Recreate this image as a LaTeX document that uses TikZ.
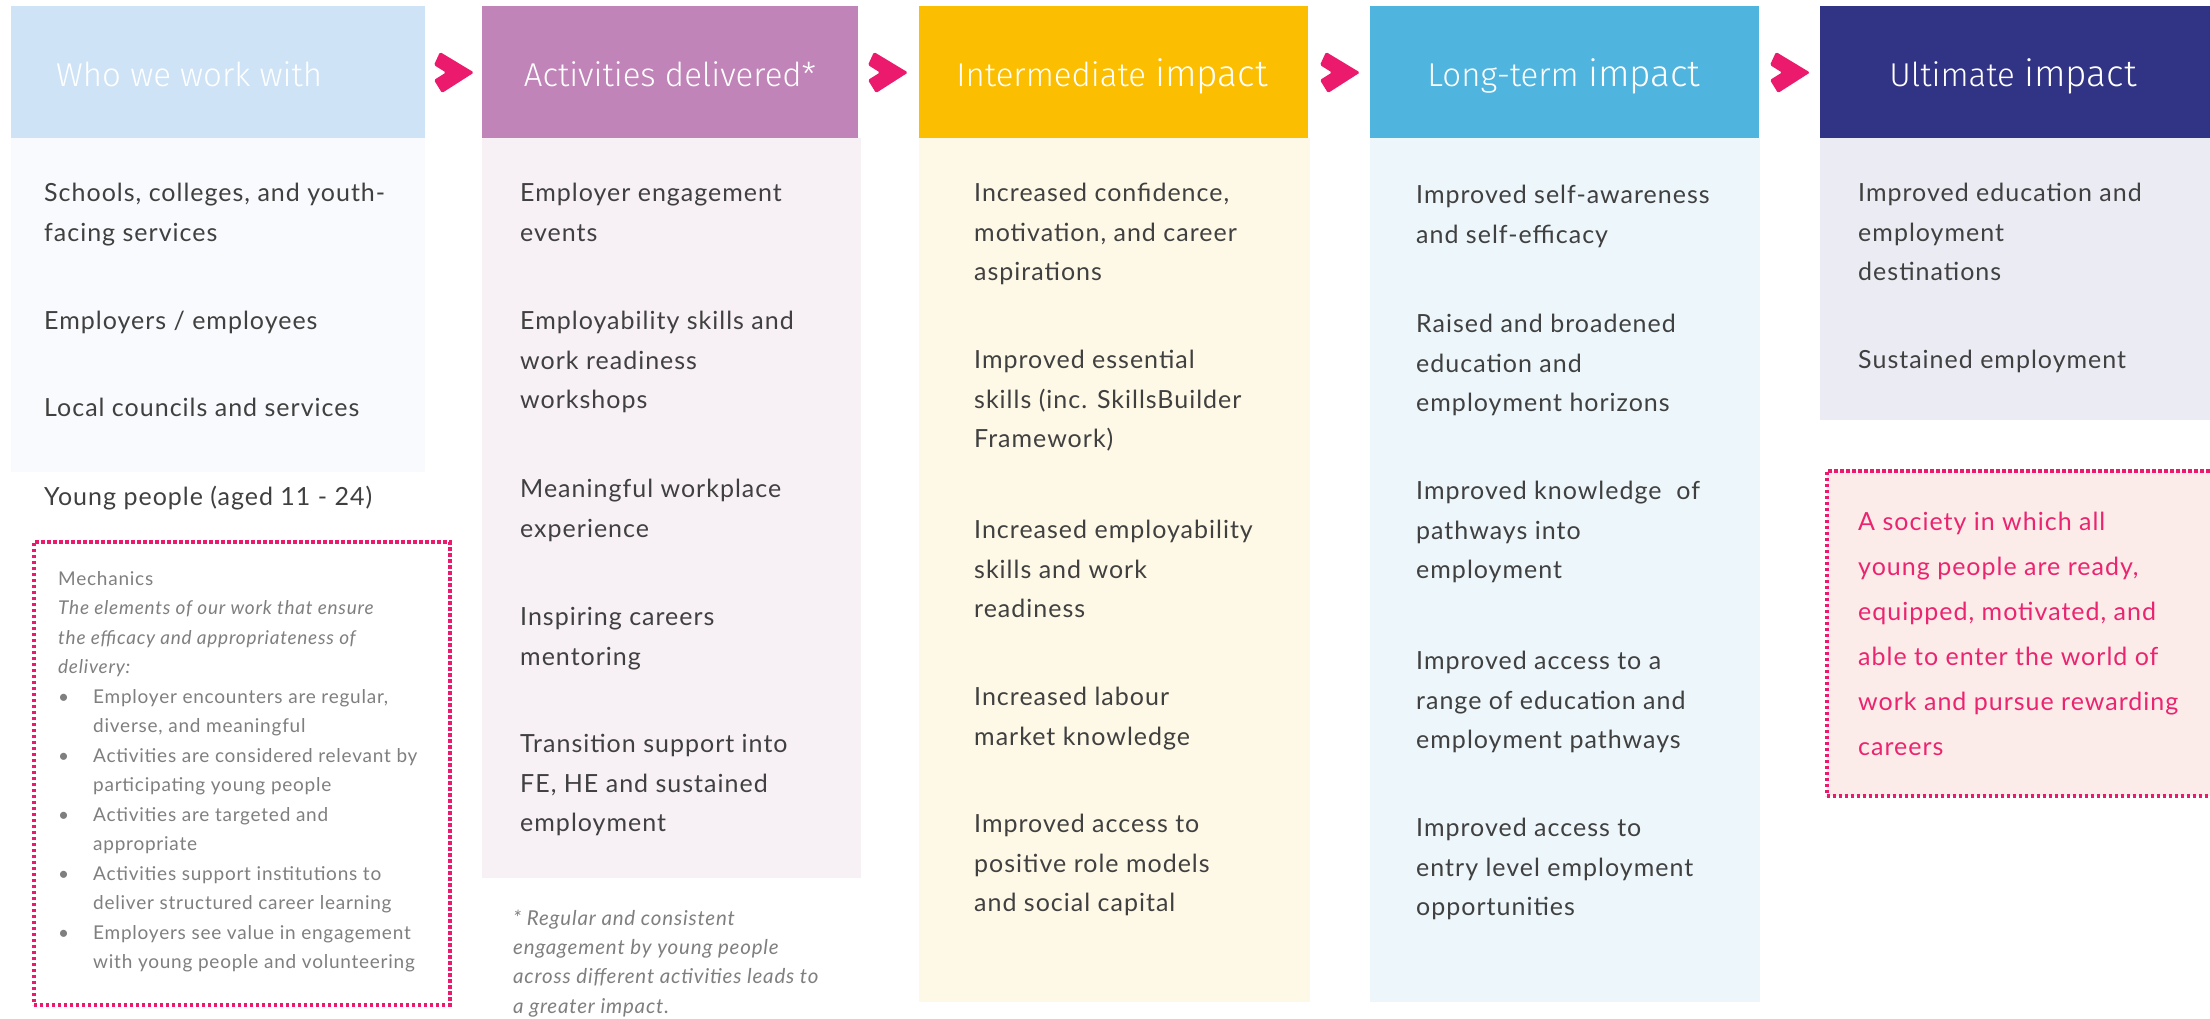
\documentclass[tikz,border=0pt]{standalone}
\usepackage{fontspec}
\setmainfont{Lato}[LetterSpace=4]
\newfontfamily\headfont{Fira Sans Light}
\definecolor{hA}{HTML}{CFE3F6}
\definecolor{hB}{HTML}{C084B8}
\definecolor{hC}{HTML}{FBBE00}
\definecolor{hD}{HTML}{4FB4DE}
\definecolor{hE}{HTML}{313384}
\definecolor{bA}{HTML}{F9FAFD}
\definecolor{bB}{HTML}{F7F1F6}
\definecolor{bC}{HTML}{FEF8E6}
\definecolor{bD}{HTML}{EDF6FA}
\definecolor{bE}{HTML}{EBEBF4}
\definecolor{pinkc}{HTML}{EC1A6C}
\definecolor{pinktxt}{HTML}{EB2470}
\definecolor{pinkfill}{HTML}{FBECEA}
\definecolor{bodytxt}{HTML}{404040}
\definecolor{greytxt}{HTML}{7F7F7F}
\begin{document}
\begin{tikzpicture}[x=1pt,y=-1pt,
  hdr/.style={anchor=north west, inner sep=0pt, minimum height=132pt},
  htxt/.style={anchor=base, inner sep=0pt, text=white, font=\headfont\fontsize{33}{36}\selectfont},
  big/.style={font=\fontsize{37}{38}\selectfont},
  panel/.style={anchor=north west, inner sep=0pt},
  item/.style={anchor=base west, align=left, inner sep=0pt, text=bodytxt,
    font=\fontsize{25}{39.5}\selectfont},
  small/.style={anchor=base west, align=left, inner sep=0pt, text=greytxt,
    font=\fontsize{19}{29.5}\selectfont},
  dotbox/.style={draw=pinkc, line width=3.5pt, dash pattern=on 3.5pt off 2.5pt},
  chev/.pic={\fill[pinkc, rounded corners=1.5pt] (6,0) -- (40,20.5) -- (8,41) -- (0,28) -- (12,20.5) -- (0,13) -- cycle;}
]
\useasboundingbox (0,0) rectangle (2210,1018);
\fill[white] (0,0) rectangle (2210,1018);

% panels (bodies)
\node[panel, fill=bA, minimum width=414pt, minimum height=334pt] (b1) at (11,138) {};
\node[panel, fill=bB, minimum width=379pt, minimum height=740pt] (b2) at (482,138) {};
\node[panel, fill=bC, minimum width=391pt, minimum height=864pt] (b3) at (919,138) {};
\node[panel, fill=bD, minimum width=390pt, minimum height=864pt] (b4) at (1370,138) {};
\node[panel, fill=bE, minimum width=390pt, minimum height=282pt] (b5) at (1820,138) {};

% headers
\node[hdr, fill=hA, minimum width=414pt] (h1) at (11,6) {};
\node[hdr, fill=hB, minimum width=376pt] (h2) at (482,6) {};
\node[hdr, fill=hC, minimum width=389pt] (h3) at (919,6) {};
\node[hdr, fill=hD, minimum width=389pt] (h4) at (1370,6) {};
\node[hdr, fill=hE, minimum width=392pt] (h5) at (1820,6) {};

\node[htxt, anchor=base west] (t1) at (56,86) {Who we work with};
\node[htxt] (t2) at (670,86) {Activities delivered*};
\node[htxt] (t3) at (1112,86) {Intermediate {\fontsize{37}{38}\selectfont impact}};
\node[htxt] (t4) at (1564,86) {Long-term {\fontsize{37}{38}\selectfont impact}};
\node[htxt] (t5) at (2013,86) {Ultimate {\fontsize{37}{38}\selectfont impact}};

% chevrons
\pic at (434,52) {chev};
\pic at (868,52) {chev};
\pic at (1320,52) {chev};
\pic at (1770,52) {chev};

% column 1 (anchor = baseline of last line)
\node[item] (a1) at (44,241) {Schools, colleges, and youth-\\facing services};
\node[item] (a2) at (44,329.5) {Employers / employees};
\node[item] (a3) at (44,416.5) {Local councils and services};
\node[item] (a4) at (44,505.5) {Young people (aged 11 - 24)};

% mechanics box
\node[panel, dotbox, minimum width=416pt, minimum height=463pt] (mech) at (32,540) {};
\node[small] (mtxt) at (58,968.5) {Mechanics\\
\textit{The elements of our work that ensure}\\
\textit{the efficacy and appropriateness of}\\
\textit{delivery:}\\
\makebox[35pt][l]{•}Employer encounters are regular,\\
\hspace*{35pt}diverse, and meaningful\\
\makebox[35pt][l]{•}Activities are considered relevant by\\
\hspace*{35pt}participating young people\\
\makebox[35pt][l]{•}Activities are targeted and\\
\hspace*{35pt}appropriate\\
\makebox[35pt][l]{•}Activities support institutions to\\
\hspace*{35pt}deliver structured career learning\\
\makebox[35pt][l]{•}Employers see value in engagement\\
\hspace*{35pt}with young people and volunteering};

% column 2
\node[item] (c1) at (520,241) {Employer engagement\\events};
\node[item] (c2) at (520,408.5) {Employability skills and\\work readiness\\workshops};
\node[item] (c3) at (520,537) {Meaningful workplace\\experience};
\node[item] (c4) at (520,665) {Inspiring careers\\mentoring};
\node[item] (c5) at (520,831.5) {Transition support into\\FE, HE and sustained\\employment};
\node[small, font=\itshape\fontsize{20.5}{29.3}\selectfont] (foot) at (513,1013) {* Regular and consistent\\engagement by young people\\across different activities leads to\\a greater impact.};

% column 3
\node[item] (d1) at (974,280.5) {Increased confidence,\\motivation, and career\\aspirations};
\node[item] (d2) at (974,447.5) {Improved essential\\skills (inc. SkillsBuilder\\Framework)};
\node[item] (d3) at (974,617.5) {Increased employability\\skills and work\\readiness};
\node[item] (d4) at (974,745) {Increased labour\\market knowledge};
\node[item] (d5) at (974,911.5) {Improved access to\\positive role models\\and social capital};

% column 4
\node[item] (e1) at (1416,243) {Improved self-awareness\\and self-efficacy};
\node[item] (e2) at (1416,411.5) {Raised and broadened\\education and\\employment horizons};
\node[item] (e3) at (1416,578.5) {Improved knowledge\ \ of\\pathways into\\employment};
\node[item] (e4) at (1416,748.5) {Improved access to a\\range of education and\\employment pathways};
\node[item] (e5) at (1416,915.5) {Improved access to\\entry level employment\\opportunities};

% column 5
\node[item] (f1) at (1858,280.5) {Improved education and\\employment\\destinations};
\node[item] (f2) at (1858,368.5) {Sustained employment};

% vision box
\node[panel, dotbox, fill=pinkfill, minimum width=392pt, minimum height=325pt] (vis) at (1825,469) {};
\node[item, text=pinktxt, font=\fontsize{25}{45}\selectfont] (vtxt) at (1858,755) {A society in which all\\young people are ready,\\equipped, motivated, and\\able to enter the world of\\work and pursue rewarding\\careers};
\end{tikzpicture}
\end{document}
